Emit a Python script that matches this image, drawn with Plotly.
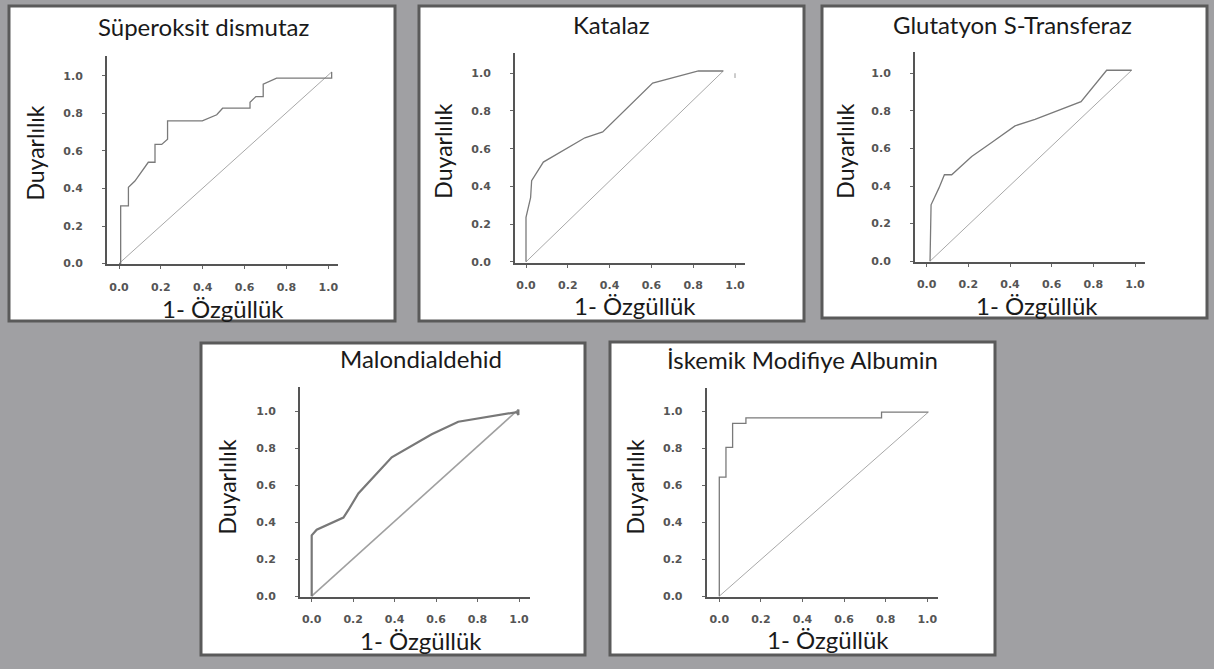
import plotly.graph_objects as go

W, H = 1214, 669

# ---------------- data ----------------
titles = ["Süperoksit dismutaz", "Katalaz", "Glutatyon S-Transferaz",
          "Malondialdehid", "İskemik Modifiye Albumin"]
x_title = "1- Özgüllük"
y_title = "Duyarlılık"
tick_vals = [0.0, 0.2, 0.4, 0.6, 0.8, 1.0]
tick_text = ["0.0", "0.2", "0.4", "0.6", "0.8", "1.0"]

sod_fpr = [0.0, 0.008, 0.008, 0.045, 0.045, 0.076, 0.14, 0.172, 0.172, 0.204, 0.232, 0.232,
           0.398, 0.467, 0.495, 0.626, 0.626, 0.654, 0.689, 0.689, 0.753, 1.016, 1.016]
sod_tpr = [0.0, 0.0, 0.307, 0.307, 0.407, 0.44, 0.54, 0.54, 0.635, 0.635, 0.663, 0.761,
           0.761, 0.793, 0.828, 0.828, 0.86, 0.89, 0.89, 0.956, 0.988, 0.988, 1.021]
sod_ref_x = [0.0, 1.016]
sod_ref_y = [0.0, 1.021]

cat_fpr = [0.0, 0.0, 0.022, 0.027, 0.083, 0.282, 0.367, 0.606, 0.825, 0.944]
cat_tpr = [0.0, 0.236, 0.34, 0.43, 0.529, 0.658, 0.689, 0.948, 1.012, 1.012]
cat_ref_x = [0.0, 0.944]
cat_ref_y = [0.0, 1.012]
cat_mark_x = [1.0, 1.0]
cat_mark_y = [0.975, 1.0]

gst_fpr = [0.016, 0.021, 0.059, 0.085, 0.12, 0.216, 0.312, 0.424, 0.52, 0.741, 0.864, 0.984]
gst_tpr = [0.0, 0.30, 0.39, 0.46, 0.46, 0.557, 0.632, 0.72, 0.755, 0.849, 1.016, 1.016]
gst_ref_x = [0.016, 0.984]
gst_ref_y = [0.0, 1.016]

mda_fpr = [0.0, 0.0, 0.024, 0.153, 0.177, 0.225, 0.386, 0.482, 0.579, 0.707, 0.85, 0.989, 0.997, 0.997]
mda_tpr = [0.0, 0.329, 0.359, 0.425, 0.466, 0.555, 0.751, 0.813, 0.875, 0.943, 0.97, 0.995, 0.98, 1.009]
mda_ref_x = [0.0, 0.997]
mda_ref_y = [0.0, 1.009]

ima_fpr = [0.0, 0.0, 0.032, 0.032, 0.064, 0.064, 0.128, 0.128, 0.78, 0.78, 1.005]
ima_tpr = [0.0, 0.644, 0.644, 0.804, 0.804, 0.934, 0.934, 0.964, 0.964, 0.995, 0.995]
ima_ref_x = [0.0, 1.005]
ima_ref_y = [0.0, 0.995]

curves = [(sod_fpr, sod_tpr), (cat_fpr, cat_tpr), (gst_fpr, gst_tpr),
          (mda_fpr, mda_tpr), (ima_fpr, ima_tpr)]
refs = [(sod_ref_x, sod_ref_y), (cat_ref_x, cat_ref_y), (gst_ref_x, gst_ref_y),
        (mda_ref_x, mda_ref_y), (ima_ref_x, ima_ref_y)]

# ---------------- layout geometry (pixels) ----------------
boxes = [(9, 6, 395, 324), (419, 6, 804, 324), (822, 6, 1207, 321),
         (201, 346, 585, 661), (610, 345, 995, 661)]
axes_px = [
    (107, 338, 119.0, 328.3, 266.7, 57.0, 76.7),
    (515, 745, 526.0, 735.0, 265.0, 53.0, 74.0),
    (915, 1145, 926.7, 1135.0, 264.3, 52.7, 74.0),
    (300, 530, 311.7, 519.0, 602.3, 390.7, 415.0),
    (706.7, 938.3, 719.3, 927.3, 602.3, 391.7, 415.0),
]
title_pos = [(203, 27), (611, 25), (1012, 25), (421, 362), (802, 363)]
ytitle_pos = [(35, 155), (443, 153), (845, 153), (227, 492), (635, 492)]
xtitle_pos = [(223, 311), (635, 308), (1037, 308), (421, 646), (828, 645)]

curve_style = [dict(color="#7a7a7a", width=1.3)] * 3 + [dict(color="#787878", width=2.2),
                                                         dict(color="#7a7a7a", width=1.3)]
ref_style = [dict(color="#a8a8a8", width=1.0)] * 3 + [dict(color="#a0a0a0", width=1.6),
                                                       dict(color="#a8a8a8", width=1.0)]

fx = lambda px: px / W
fy = lambda py: 1 - py / H

fig = go.Figure()
layout = dict(
    width=W, height=H, autosize=False,
    margin=dict(l=0, r=0, t=0, b=0, pad=0),
    paper_bgcolor="#a0a0a3", plot_bgcolor="rgba(0,0,0,0)",
    showlegend=False, shapes=[], annotations=[],
)

tick_font = dict(family="DejaVu Sans", size=11, color="#555555", weight="bold")
text_font = "Lato"

for i in range(5):
    bx0, by0, bx1, by1 = boxes[i]
    layout["shapes"].append(dict(
        type="rect", xref="paper", yref="paper",
        x0=fx(bx0), x1=fx(bx1), y0=fy(by1), y1=fy(by0),
        fillcolor="white", line=dict(color="#5a5a5a", width=3), layer="below"))

    ya, xe, x0p, x1p, xa, yt, y1p = axes_px[i]
    sx = x1p - x0p
    sy = xa - y1p
    xr = [(ya - x0p) / sx, (xe - x0p) / sx]
    yr = [-0.004, (xa - yt) / sy]
    xn = "xaxis" if i == 0 else f"xaxis{i+1}"
    yn = "yaxis" if i == 0 else f"yaxis{i+1}"
    xid = "x" if i == 0 else f"x{i+1}"
    yid = "y" if i == 0 else f"y{i+1}"
    common = dict(showgrid=False, zeroline=False, showline=True, linecolor="#555555",
                  linewidth=2, tickvals=tick_vals, ticktext=tick_text, ticks="outside",
                  ticklen=3, tickcolor="#666666", tickwidth=1, tickfont=tick_font,
                  fixedrange=True)
    layout[xn] = dict(common, domain=[fx(ya), fx(xe)], range=xr, anchor=yid,
                      ticklabelstandoff=8)
    layout[yn] = dict(common, domain=[fy(xa), fy(yt)], range=yr, anchor=xid,
                      ticklabelstandoff=17)

    cx, cy = curves[i]
    rx, ry = refs[i]
    fig.add_trace(go.Scatter(x=rx, y=ry, mode="lines", line=ref_style[i],
                             xaxis=xid, yaxis=yid, hoverinfo="skip"))
    fig.add_trace(go.Scatter(x=cx, y=cy, mode="lines", line=curve_style[i],
                             xaxis=xid, yaxis=yid))
    if i == 1:
        fig.add_trace(go.Scatter(x=cat_mark_x, y=cat_mark_y, mode="lines",
                                 line=dict(color="#999999", width=1),
                                 xaxis=xid, yaxis=yid, hoverinfo="skip"))

    tx, ty = title_pos[i]
    layout["annotations"].append(dict(
        text=titles[i], xref="paper", yref="paper", x=fx(tx), y=fy(ty),
        xanchor="center", yanchor="middle", showarrow=False,
        font=dict(family=text_font, size=24, color="#1a1a1a")))
    tx, ty = ytitle_pos[i]
    layout["annotations"].append(dict(
        text=y_title, xref="paper", yref="paper", x=fx(tx), y=fy(ty),
        xanchor="center", yanchor="middle", showarrow=False, textangle=-90,
        font=dict(family=text_font, size=23, color="#1a1a1a")))
    tx, ty = xtitle_pos[i]
    layout["annotations"].append(dict(
        text=x_title, xref="paper", yref="paper", x=fx(tx), y=fy(ty),
        xanchor="center", yanchor="middle", showarrow=False,
        font=dict(family=text_font, size=24, color="#1a1a1a")))

fig.update_layout(**layout)
fig.write_html("out.html", config={"displayModeBar": False},
               post_script="document.body.style.margin='0';document.body.style.overflow='hidden';")
